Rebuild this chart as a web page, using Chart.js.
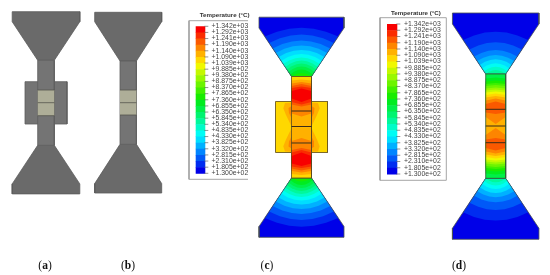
<!DOCTYPE html>
<html>
  <head>
    <title>Specimen temperature contours</title>
    <meta charset="UTF-8">
    <style>
      body { margin: 0; background: #fff; }
      canvas { display: block; filter: blur(0.45px); }
    </style>
    <script src="https://cdn.jsdelivr.net/npm/chart.js"></script>
  </head>
  <body>
    <canvas id="contourChart" width="550" height="275"></canvas>
    <script>
      // Legend values, top of the colour bar first
      const tempLabels = ['+1.342e+03', '+1.292e+03', '+1.241e+03', '+1.190e+03', '+1.140e+03',
        '+1.090e+03', '+1.039e+03', '+9.885e+02', '+9.380e+02', '+8.875e+02', '+8.370e+02',
        '+7.865e+02', '+7.360e+02', '+6.855e+02', '+6.350e+02', '+5.845e+02', '+5.340e+02',
        '+4.835e+02', '+4.330e+02', '+3.825e+02', '+3.320e+02', '+2.815e+02', '+2.310e+02',
        '+1.805e+02', '+1.300e+02'];
      const bandColors = ['#f80000', '#fa2c00', '#fb5900', '#fd8500', '#ffb100', '#ffd800',
        '#f0f800', '#c4f800', '#98f800', '#6cf400', '#40f000', '#18ec00', '#00ec20', '#00f048',
        '#00f470', '#00f89b', '#00fcc8', '#00fcf4', '#00deff', '#00b1ff', '#0085ff', '#0059f8',
        '#002cf0', '#0000e8'];

      // Isotherms in the flared grips: right half [offset from axis, height above neck]
      const flareIsothermsC = [
        [[0, 48.7], [12.3, 47.7], [24.5, 44.8], [36.8, 40]],
        [[0, 42], [10.8, 41], [21.6, 38.2], [32.4, 33.5]],
        [[0, 36], [9.6, 35.1], [19.2, 32.4], [28.8, 28]],
        [[0, 31], [8.6, 30.2], [17.1, 27.7], [25.7, 23.5]],
        [[0, 26.5], [7.7, 25.7], [15.3, 23.4], [23, 19.5]],
        [[0, 22.5], [6.8, 21.7], [13.6, 19.4], [20.4, 15.5]],
        [[0, 19], [6.1, 18.3], [12.3, 16.1], [18.4, 12.5]],
        [[0, 16], [5.5, 15.3], [10.9, 13.1], [16.4, 9.5]],
        [[0, 13], [4.9, 12.3], [9.8, 10.3], [14.7, 7]],
        [[0, 10], [4.3, 9.4], [8.7, 7.6], [13, 4.5]],
        [[0, 7], [3.8, 6.4], [7.5, 4.8], [11.3, 2]],
        [[0, 3.5], [3.3, 3.1], [6.7, 2], [10, 0]]
      ];
      const flareIsothermsD = [
        [[0, 42.3], [10.9, 41.4], [21.7, 38.6], [32.6, 34]],
        [[0, 31.7], [8.8, 30.9], [17.5, 28.5], [26.3, 24.5]],
        [[0, 24], [7.2, 23.3], [14.4, 21.1], [21.6, 17.5]],
        [[0, 19], [6.2, 18.3], [12.4, 16.3], [18.6, 13]],
        [[0, 14.7], [5.3, 14.1], [10.7, 12.2], [16, 9]],
        [[0, 10.7], [4.6, 10.1], [9.1, 8.4], [13.7, 5.5]],
        [[0, 7.3], [3.9, 6.8], [7.8, 5.2], [11.7, 2.5]],
        [[0, 4], [3.3, 3.6], [6.7, 2.2], [10, 0]]
      ];

      // Neck bands, y of [top at edge, top at axis, bottom at axis, bottom at edge], upper half
      const neckBandsC = [
        [5, 76.5, 76.5, 111, 111],
        [4, 80.5, 79.5, 111, 111],
        [3, 83.5, 82, 111, 111],
        [2, 86, 84, 106.5, 104.5],
        [1, 88, 86.5, 104.5, 102],
        [0, 91, 88.5, 102, 98.5],
        [4, 111, 111, 127.2, 127.2],
        [3, 111, 111, 116.5, 113.5]
      ];
      const neckBandsD = [
        [13, 74, 74, 109.3, 109.3],
        [12, 78.5, 77.5, 109.3, 109.3],
        [11, 81.5, 80.5, 109.3, 109.3],
        [10, 84, 83, 109.3, 109.3],
        [9, 86, 85, 109.3, 109.3],
        [8, 88.5, 87.5, 109.3, 109.3],
        [7, 90.5, 89.5, 109.3, 109.3],
        [6, 92.5, 91.5, 109.3, 109.3],
        [5, 95, 93.5, 109.3, 109.3],
        [4, 97.5, 96, 109.3, 109.3],
        [3, 100.5, 98.5, 109.3, 109.3],
        [2, 104, 101.5, 109.3, 109.3],
        [4, 109.3, 109.3, 126, 126],
        [3, 109.3, 109.3, 124, 117],
        [2, 109.3, 109.3, 114, 112.5]
      ];

      // Heated block of panel (c), left side [offset from axis, y], upper half
      const blockBandOuterC = [[-10, 102.7], [-16.5, 103], [-18.2, 108.3], [-15.5, 115], [-11.5, 123.3], [-10, 126.7]];
      const blockBandInnerC = [[-10, 106], [-13, 108], [-12.5, 113], [-10, 118]];

      // Section lines across the necks
      const sectionLinesA = [90, 102.7, 115.7];
      const sectionLinesB = [90, 102.7, 115];
      const sectionLinesC = [111, 126.5, 143];
      const sectionLinesD = [109.3, 126, 142.7];

      const captions = [['a', 45], ['b', 128], ['c', 267], ['d', 459]];

      const shapes = [];
      const lineColor = '#4a5250';

      function addShape(points, fill, stroke, width) {
        shapes.push({
          data: points.map(p => ({ x: p[0], y: p[1] })),
          showLine: true,
          fill: fill ? 'shape' : false,
          backgroundColor: fill || 'transparent',
          borderColor: stroke || fill || 'transparent',
          borderWidth: width === undefined ? (stroke ? 1 : 0) : width,
          pointRadius: 0,
          tension: 0
        });
      }

      function rect(x0, y0, x1, y1, fill, stroke, width) {
        addShape([[x0, y0], [x1, y0], [x1, y1], [x0, y1], [x0, y0]], fill, stroke, width);
      }

      // Outline of a grip. dir is +1 when it sits above the neck, -1 below
      function flareOutline(axis, neckY, dir, g) {
        const y = h => neckY - dir * h;
        return [[axis - g.neck, y(0)], [axis - g.wide, y(g.shoulder)], [axis - g.wide, y(g.total)],
          [axis + g.wide, y(g.total)], [axis + g.wide, y(g.shoulder)], [axis + g.neck, y(0)], [axis - g.neck, y(0)]];
      }

      function contourFlare(axis, neckY, dir, g, isotherms) {
        const outline = flareOutline(axis, neckY, dir, g);
        addShape(outline, bandColors[23]);
        isotherms.forEach((iso, i) => {
          const right = iso.map(p => [axis + p[0], neckY - dir * p[1]]);
          const left = iso.slice(1).reverse().map(p => [axis - p[0], neckY - dir * p[1]]);
          const pts = left.concat(right, [[axis + g.neck, neckY], [axis - g.neck, neckY]]);
          pts.push(pts[0]);
          addShape(pts, bandColors[22 - i]);
        });
        addShape(outline, null, lineColor, 0.8);
      }

      // Each band row is drawn for the upper half and again mirrored about midY
      function contourNeck(axis, midY, half, rows) {
        rows.forEach(r => {
          [y => y, y => 2 * midY - y].forEach(m => {
            addShape([[axis - half, m(r[1])], [axis, m(r[2])], [axis + half, m(r[1])],
              [axis + half, m(r[4])], [axis, m(r[3])], [axis - half, m(r[4])], [axis - half, m(r[1])]],
              bandColors[r[0]]);
          });
        });
      }

      function greySpecimen(axis, g, topNeck, bottomNeck, lines) {
        addShape(flareOutline(axis, topNeck, 1, g), '#6a6a6a', '#5a5a5a', 0.8);
        addShape(flareOutline(axis, bottomNeck, -1, g), '#6a6a6a', '#5a5a5a', 0.8);
        rect(axis - g.neck, topNeck, axis + g.neck, bottomNeck, '#747474', '#5e5e5e', 0.8);
        rect(axis - g.neck, lines[0], axis + g.neck, lines[2], '#aeae98');
        lines.forEach(y => addShape([[axis - g.neck, y], [axis + g.neck, y]], null, '#54544c', 0.8));
      }

      function colourBar(x0, x1, top, bottom, boxX0, boxX1, boxTop, boxBottom, closed) {
        const step = (bottom - top) / bandColors.length;
        bandColors.forEach((c, i) => rect(x0, top + i * step, x1, top + (i + 1) * step + 0.5, c));
        tempLabels.forEach((t, i) => {
          addShape([[x1 - 1, top + i * step], [x1 + 3, top + i * step]], null, '#666666', 0.7);
        });
        const box = [[boxX1, boxTop], [boxX0, boxTop], [boxX0, boxBottom], [boxX1, boxBottom]];
        if (closed) box.push([boxX1, boxTop]);
        addShape(box, null, '#a5a5a5', 1);
      }

      // Panel (a): specimen with the block
      rect(25, 81.7, 67, 124, '#747474', '#5e5e5e', 0.8);
      greySpecimen(46, { neck: 8.3, wide: 33.8, shoulder: 38.6, total: 48.6 }, 60.3, 145.3, sectionLinesA);

      // Panel (b): specimen without the block
      greySpecimen(128.2, { neck: 8.2, wide: 33.5, shoulder: 39.3, total: 48.7 }, 61, 144.3, sectionLinesB);

      // Panel (c)
      const gripC = { neck: 10, wide: 42.5, shoulder: 48.5, total: 59.3 };
      colourBar(195.7, 205.3, 26.3, 173.3, 189, 248, 20.7, 179.3, false);
      contourFlare(301.5, 76.5, 1, gripC, flareIsothermsC);
      contourFlare(301.5, 178, -1, gripC, flareIsothermsC);
      rect(275.5, 101.5, 327.5, 152.5, bandColors[5]);
      [-1, 1].forEach(side => {
        [y => y, y => 254.5 - y].forEach(m => {
          addShape(blockBandOuterC.map(p => [301.5 + side * p[0], m(p[1])]).concat([[301.5 + side * -10, m(102.7)]]), bandColors[4]);
          addShape(blockBandInnerC.map(p => [301.5 + side * p[0], m(p[1])]).concat([[301.5 + side * -10, m(106)]]), bandColors[3]);
        });
      });
      rect(275.5, 101.5, 327.5, 152.5, null, '#6d5a20', 0.9);
      contourNeck(301.5, 127.25, 10, neckBandsC);
      rect(291.5, 76.5, 311.5, 178, null, '#5c4a20', 0.8);
      sectionLinesC.forEach(y => addShape([[291.5, y], [311.5, y]], null, '#3a2a18', 1));

      // Panel (d)
      const gripD = { neck: 10, wide: 43.25, shoulder: 50, total: 61 };
      colourBar(387, 397.3, 24, 174, 380, 446.3, 17.7, 180.3, true);
      contourFlare(495.7, 74, 1, gripD, flareIsothermsD);
      contourFlare(495.7, 178.3, -1, gripD, flareIsothermsD);
      contourNeck(495.7, 126, 10, neckBandsD);
      rect(485.7, 74, 505.7, 178.3, null, '#2f5a35', 0.8);
      sectionLinesD.forEach(y => addShape([[485.7, y], [505.7, y]], null, '#3a2a18', 1));

      // Real text, placed through the chart's scales
      const labelPlugin = {
        id: 'labelPlugin',
        afterDatasetsDraw(chart) {
          const { ctx, scales: { x, y } } = chart;
          const px = v => x.getPixelForValue(v);
          const py = v => y.getPixelForValue(v);
          ctx.save();
          ctx.textBaseline = 'middle';
          ctx.textAlign = 'left';
          ctx.fillStyle = '#444444';
          ctx.font = '6.9px "Liberation Sans"';
          tempLabels.forEach((t, i) => {
            ctx.fillText(t, px(211.5), py(26.2 + i * 6.125));
            ctx.fillText(t, px(404), py(24 + i * 6.25));
          });
          ctx.font = 'bold 6.2px "Liberation Sans"';
          ctx.fillStyle = '#333333';
          ctx.fillText('Temperature (°C)', px(199.7), py(15.7));
          ctx.fillText('Temperature (°C)', px(391), py(13.3));
          ctx.fillStyle = '#111111';
          captions.forEach(c => {
            const regular = '11.5px "Liberation Serif"';
            const bold = 'bold 11.5px "Liberation Serif"';
            ctx.font = regular;
            const open = ctx.measureText('(').width;
            ctx.font = bold;
            const letter = ctx.measureText(c[0]).width;
            let cx = px(c[1]) - (2 * open + letter) / 2;
            ctx.font = regular;
            ctx.fillText('(', cx, py(265.7));
            ctx.fillText(')', cx + open + letter, py(265.7));
            ctx.font = bold;
            ctx.fillText(c[0], cx + open, py(265.7));
          });
          ctx.restore();
        }
      };

      new Chart(document.getElementById('contourChart'), {
        type: 'scatter',
        data: { datasets: shapes.slice().reverse() },
        options: {
          responsive: false,
          animation: false,
          layout: { padding: 0 },
          plugins: { legend: { display: false }, tooltip: { enabled: false } },
          scales: {
            x: { type: 'linear', min: 0, max: 550, display: false },
            y: { type: 'linear', min: 0, max: 275, reverse: true, display: false }
          }
        },
        plugins: [labelPlugin]
      });
    </script>
  </body>
</html>
